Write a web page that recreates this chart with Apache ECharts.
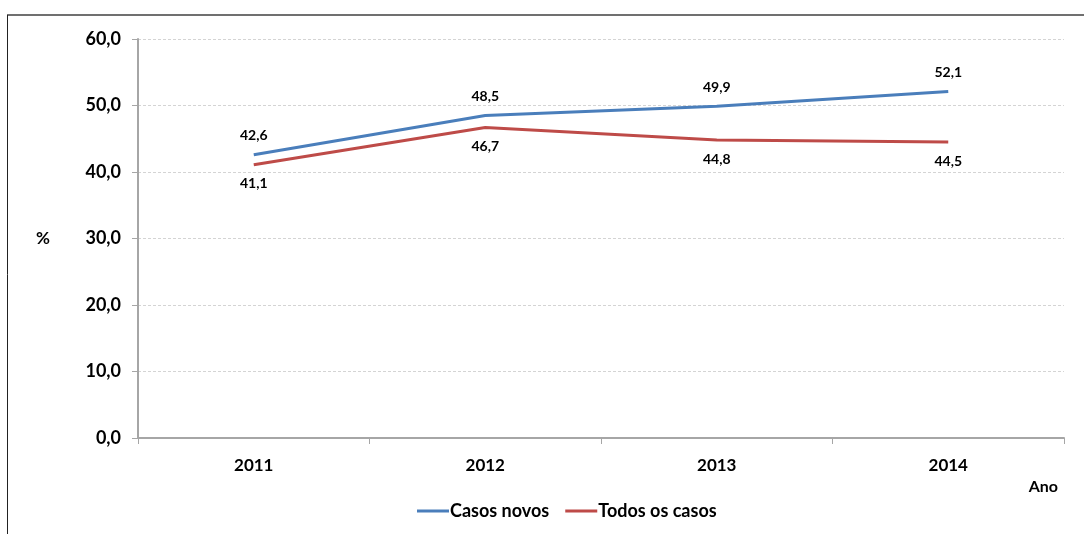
<!DOCTYPE html>
<html style="height: 100%;">
<head>
    <meta charset="UTF-8">
    <title></title>
    <script src="https://cdn.jsdelivr.net/npm/echarts@6/dist/echarts.min.js"></script>
</head>
<body style="height: 100%;margin: 0;background:#fff;">
	<div id="container" style="width:1084px;height:534px;"></div>
    <script type="text/javascript">
      	var anos = ['2011', '2012', '2013', '2014'];
      	var casosNovos = [42.6, 48.5, 49.9, 52.1];
      	var todosCasos = [41.1, 46.7, 44.8, 44.5];
      	var yTicks = [0, 10, 20, 30, 40, 50, 60];

      	var fonte = 'Lato, "Open Sans", sans-serif';
      	var myChart = echarts.init(document.getElementById('container'));

      	function fmt(v) { return v.toFixed(1).replace('.', ','); }

		var option = {
			animation: false,
			textStyle: { fontFamily: fonte },
		    grid: { left: 138, right: 20, top: 39, bottom: 96 },
		    legend: {
		        data: ['Casos novos', 'Todos os casos'],
		        top: 497,
		        left: 412,
		        itemWidth: 32,
		        itemHeight: 3,
		        itemGap: 16,
		        icon: 'rect',
		        textStyle: { fontSize: 18, fontWeight: 'bold', color: '#000', fontFamily: fonte, padding: [0, 0, 0, -4] }
		    },
		    xAxis: {
		        type: 'category',
		        data: anos,
		        boundaryGap: true,
		        axisLine: { lineStyle: { color: '#a6a6a6', width: 2 } },
		        axisTick: { show: true, length: 6, lineStyle: { color: '#a6a6a6' } },
		        axisLabel: { fontSize: 17, fontWeight: 'bold', color: '#000', margin: 19 },
		        name: 'Ano',
		        nameLocation: 'end',
		        nameGap: 0,
		        nameTextStyle: { fontSize: 16, fontWeight: 'bold', color: '#000', align: 'right', verticalAlign: 'top', padding: [41, 6, 0, 0] }
		    },
		    yAxis: {
		        type: 'value',
		        min: yTicks[0],
		        max: yTicks[yTicks.length - 1],
		        interval: 10,
		        axisLine: { show: true, lineStyle: { color: '#a6a6a6', width: 2 } },
		        axisTick: { show: true, length: 6, lineStyle: { color: '#a6a6a6' } },
		        axisLabel: { fontSize: 18, fontWeight: 'bold', color: '#000', margin: 17, formatter: fmt },
		        splitLine: { lineStyle: { color: '#d4d4d4', type: [3, 2] } },
		        name: '%',
		        nameLocation: 'middle',
		        nameRotate: 0,
		        nameGap: 88,
		        nameTextStyle: { fontSize: 17, fontWeight: 'bold', color: '#000' }
		    },
		    series: [
		        {
		            name: 'Casos novos',
		            type: 'line',
		            data: casosNovos,
		            symbol: 'circle',
		            symbolSize: 0,
		            color: '#4a7ebb',
		            lineStyle: { width: 3, color: '#4a7ebb' },
		            label: { show: true, position: 'top', distance: 12, fontSize: 14, fontWeight: 'bold', color: '#000', formatter: function (p) { return fmt(p.value); } }
		        },
		        {
		            name: 'Todos os casos',
		            type: 'line',
		            data: todosCasos,
		            symbol: 'circle',
		            symbolSize: 0,
		            color: '#be4b48',
		            lineStyle: { width: 3, color: '#be4b48' },
		            label: { show: true, position: 'bottom', distance: 12, fontSize: 14, fontWeight: 'bold', color: '#000', formatter: function (p) { return fmt(p.value); } }
		        }
		    ],
		    graphic: [
		        { type: 'line', shape: { x1: 7, y1: 15, x2: 1084, y2: 15 }, style: { stroke: '#707070', lineWidth: 2 } },
		        { type: 'line', shape: { x1: 7.5, y1: 15, x2: 7.5, y2: 534 }, style: { stroke: '#222', lineWidth: 1 } }
		    ]
		};
		myChart.setOption(option);
    </script>
</body>
</html>
